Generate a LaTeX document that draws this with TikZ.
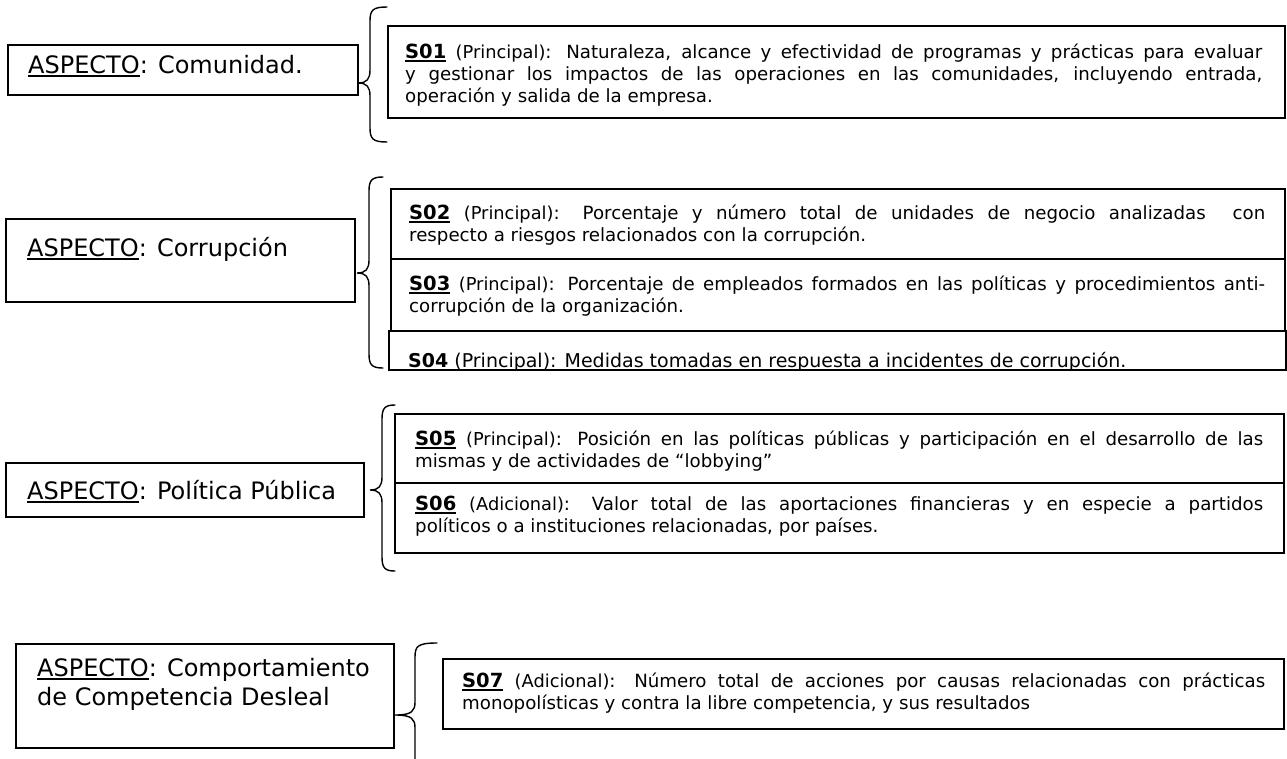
\documentclass[tikz,border=0pt]{standalone}
\usepackage{fontspec}
\setmainfont{DejaVu Sans}
\newcommand\myul[3]{\setbox0=\hbox{#3}\rlap{\rule[-#1]{\wd0}{#2}}\box0\relax}
\newcommand\sid[1]{\myul{3.5pt}{2pt}{\fontsize{19.5}{22}\selectfont\bfseries #1}}
\newcommand\pr[1]{{\fontsize{17.8}{20}\selectfont #1}}
\newcommand\asp{\myul{3.5pt}{1.6pt}{ASPECTO}}
\newcommand\jl[2]{\makebox[#1pt][s]{#2}}
\newcommand\bracepath[6]{%
  \draw[brc] (#1,#4) .. controls (#2+3,#4) and (#2,#4+3) .. (#2,#4+14) -- (#2,#5-13)
    .. controls (#2,#5-4) and (#2-3,#5) .. (#3,#5)
    .. controls (#2-3,#5) and (#2,#5+4) .. (#2,#5+13) -- (#2,#6-14)
    .. controls (#2,#6-3) and (#2+3,#6) .. (#1,#6);}
\tikzset{
  box/.style={draw=black, line width=1.6pt, inner sep=0pt, anchor=north west},
  ln/.style={anchor=base west, inner sep=0pt, font=\fontsize{18.2}{22}\selectfont},
  big/.style={anchor=base west, inner sep=0pt, font=\fontsize{24}{29}\selectfont},
  brc/.style={draw=black, line width=1.4pt, line cap=round},
}
\begin{document}
\begin{tikzpicture}[x=1pt,y=-1pt]
\useasboundingbox (0,0) rectangle (1287,758);
\fill[white] (0,0) rectangle (1287,758);

% ---------- Comunidad ----------
\node[box, minimum width=350pt, minimum height=50pt] (a1) at (7,44) {};
\node[big] (a1t) at (28,73) {\asp: Comunidad.};
\bracepath{387}{370}{358}{7}{83}{142}
\node[box, minimum width=897pt, minimum height=92pt] (s01) at (387,25) {};
\node[ln] (s01a) at (405,58) {\jl{857}{\sid{S01} \pr{(Principal)}: Naturaleza, alcance y efectividad de programas y prácticas para evaluar}};
\node[ln] (s01b) at (405,80) {\jl{857}{y gestionar los impactos de las operaciones en las comunidades, incluyendo entrada,}};
\node[ln] (s01c) at (405,102) {operación y salida de la empresa.};

% ---------- Corrupcion ----------
\node[box, minimum width=349pt, minimum height=83pt] (a2) at (5,218) {};
\node[big] (a2t) at (27,256) {\asp: Corrupción};
\bracepath{383}{369}{357}{177}{273}{368}
\node[box, minimum width=894pt, minimum height=70pt] (s02) at (390,188) {};
\node[ln] (s02a) at (409,219) {\jl{856}{\sid{S02} \pr{(Principal)}: Porcentaje y número total de unidades de negocio analizadas~ con}};
\node[ln] (s02b) at (409,241) {respecto a riesgos relacionados con la corrupción.};
\node[box, minimum width=894pt, minimum height=72pt] (s03) at (390,258) {};
\node[ln] (s03a) at (409,290) {\jl{856}{\sid{S03} \pr{(Principal)}: Porcentaje de empleados formados en las políticas y procedimientos anti-}};
\node[ln] (s03b) at (409,312) {corrupción de la organización.};
\begin{scope}
  \clip (388,330) rectangle (1285,368.5);
  \node[ln, font=\fontsize{19}{22}\selectfont] (s04a) at (408,367) {\textbf{S04} (Principal): Medidas tomadas en respuesta a incidentes de corrupción.};
\end{scope}
\node[box, minimum width=897pt, minimum height=39pt] (s04) at (388,330) {};

% ---------- Politica Publica ----------
\node[box, minimum width=358pt, minimum height=54pt] (a3) at (5,462) {};
\node[big] (a3t) at (27,499) {\asp: Política Pública};
\bracepath{395}{382}{370}{405}{490}{571}
\node[box, minimum width=889pt, minimum height=69pt] (s05) at (394,413) {};
\node[ln] (s05a) at (415,445) {\jl{848}{\sid{S05} \pr{(Principal)}: Posición en las políticas públicas y participación en el desarrollo de las}};
\node[ln] (s05b) at (415,467) {mismas y de actividades de “lobbying”};
\node[box, minimum width=889pt, minimum height=70pt] (s06) at (394,482) {};
\node[ln] (s06a) at (415,510) {\jl{848}{\sid{S06} \pr{(Adicional)}: Valor total de las aportaciones financieras y en especie a partidos}};
\node[ln] (s06b) at (415,532) {políticos o a instituciones relacionadas, por países.};

% ---------- Competencia Desleal ----------
\node[box, minimum width=378pt, minimum height=104pt] (a4) at (15,643) {};
\node[big] (a4t) at (37,676) {\asp: Comportamiento};
\node[big] (a4u) at (37,705) {de Competencia Desleal};
\begin{scope}
  \clip (0,0) rectangle (1287,758);
  \bracepath{437}{415}{395}{643}{715}{800}
\end{scope}
\node[box, minimum width=841pt, minimum height=70pt] (s07) at (442,658) {};
\node[ln] (s07a) at (462,687) {\jl{803}{\sid{S07} \pr{(Adicional)}: Número total de acciones por causas relacionadas con prácticas}};
\node[ln] (s07b) at (462,709) {monopolísticas y contra la libre competencia, y sus resultados};
\end{tikzpicture}
\end{document}
